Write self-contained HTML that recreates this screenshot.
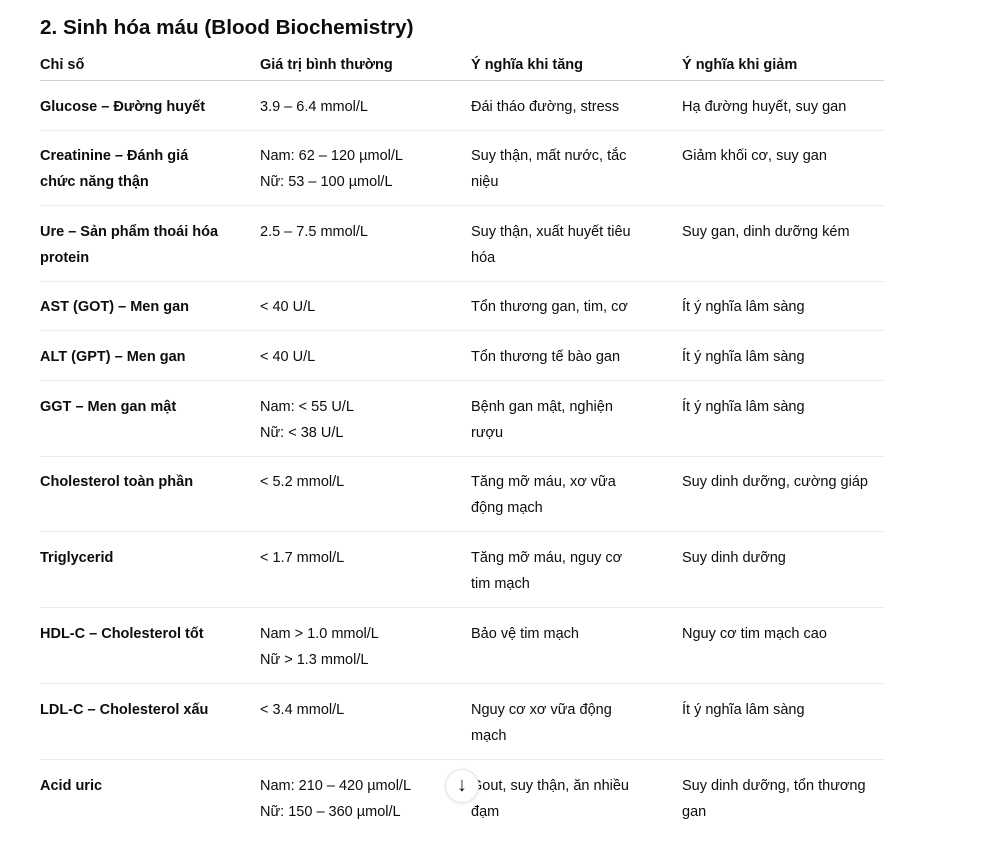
<!DOCTYPE html>
<html><head><meta charset="utf-8"><style>
body{margin:0;width:986px;height:851px;background:#fff;font-family:"Liberation Sans","DejaVu Sans",sans-serif;color:#0d0d0d;position:relative;overflow:hidden}
h2{position:absolute;left:40px;top:13px;margin:0;font-size:20.7px;font-weight:bold;line-height:30px}
.hdr{position:absolute;left:40px;top:50px;width:844px;height:30px;border-bottom:1px solid #d0d0d0;font-size:14.5px;font-weight:bold}
.row{position:absolute;left:40px;width:844px;border-bottom:1px solid #ececec;font-size:14.5px}
.c{position:absolute;top:13px;line-height:26px;white-space:nowrap}
.hdr .c{top:1px;line-height:28px}
.c0{left:0;width:200px;font-weight:bold}.c1{left:220px;width:200px}.c2{left:431px;width:190px}.c3{left:642px;width:202px}
.btn{position:absolute;left:445px;top:769px;width:32px;height:32px;border-radius:50%;background:#fff;border:1px solid #e3e3e3;box-shadow:0 1px 3px rgba(0,0,0,.08);font-size:20px;text-align:center;line-height:31px}
</style></head><body>
<h2>2. Sinh hóa máu (Blood Biochemistry)</h2>
<div class="hdr">
<div class="c c0">Chỉ số</div><div class="c c1" style="font-weight:bold">Giá trị bình thường</div><div class="c c2" style="font-weight:bold">Ý nghĩa khi tăng</div><div class="c c3" style="font-weight:bold">Ý nghĩa khi giảm</div></div>
<div class="row" style="top:81px;height:49px"><div class="c c0">Glucose – Đường huyết</div><div class="c c1">3.9 – 6.4 mmol/L</div><div class="c c2">Đái tháo đường, stress</div><div class="c c3">Hạ đường huyết, suy gan</div></div>
<div class="row" style="top:130px;height:75px"><div class="c c0">Creatinine – Đánh giá<br>chức năng thận</div><div class="c c1">Nam: 62 – 120 µmol/L<br>Nữ: 53 – 100 µmol/L</div><div class="c c2">Suy thận, mất nước, tắc<br>niệu</div><div class="c c3">Giảm khối cơ, suy gan</div></div>
<div class="row" style="top:206px;height:75px"><div class="c c0">Ure – Sản phẩm thoái hóa<br>protein</div><div class="c c1">2.5 – 7.5 mmol/L</div><div class="c c2">Suy thận, xuất huyết tiêu<br>hóa</div><div class="c c3">Suy gan, dinh dưỡng kém</div></div>
<div class="row" style="top:281px;height:49px"><div class="c c0">AST (GOT) – Men gan</div><div class="c c1">&lt; 40 U/L</div><div class="c c2">Tổn thương gan, tim, cơ</div><div class="c c3">Ít ý nghĩa lâm sàng</div></div>
<div class="row" style="top:331px;height:49px"><div class="c c0">ALT (GPT) – Men gan</div><div class="c c1">&lt; 40 U/L</div><div class="c c2">Tổn thương tế bào gan</div><div class="c c3">Ít ý nghĩa lâm sàng</div></div>
<div class="row" style="top:381px;height:75px"><div class="c c0">GGT – Men gan mật</div><div class="c c1">Nam: &lt; 55 U/L<br>Nữ: &lt; 38 U/L</div><div class="c c2">Bệnh gan mật, nghiện<br>rượu</div><div class="c c3">Ít ý nghĩa lâm sàng</div></div>
<div class="row" style="top:456px;height:75px"><div class="c c0">Cholesterol toàn phần</div><div class="c c1">&lt; 5.2 mmol/L</div><div class="c c2">Tăng mỡ máu, xơ vữa<br>động mạch</div><div class="c c3">Suy dinh dưỡng, cường giáp</div></div>
<div class="row" style="top:532px;height:75px"><div class="c c0">Triglycerid</div><div class="c c1">&lt; 1.7 mmol/L</div><div class="c c2">Tăng mỡ máu, nguy cơ<br>tim mạch</div><div class="c c3">Suy dinh dưỡng</div></div>
<div class="row" style="top:608px;height:75px"><div class="c c0">HDL-C – Cholesterol tốt</div><div class="c c1">Nam &gt; 1.0 mmol/L<br>Nữ &gt; 1.3 mmol/L</div><div class="c c2">Bảo vệ tim mạch</div><div class="c c3">Nguy cơ tim mạch cao</div></div>
<div class="row" style="top:684px;height:75px"><div class="c c0">LDL-C – Cholesterol xấu</div><div class="c c1">&lt; 3.4 mmol/L</div><div class="c c2">Nguy cơ xơ vữa động<br>mạch</div><div class="c c3">Ít ý nghĩa lâm sàng</div></div>
<div class="row" style="top:760px;height:80px;border-bottom:none"><div class="c c0">Acid uric</div><div class="c c1">Nam: 210 – 420 µmol/L<br>Nữ: 150 – 360 µmol/L</div><div class="c c2">Gout, suy thận, ăn nhiều<br>đạm</div><div class="c c3">Suy dinh dưỡng, tổn thương<br>gan</div></div>
<div class="btn">↓</div>
</body></html>
